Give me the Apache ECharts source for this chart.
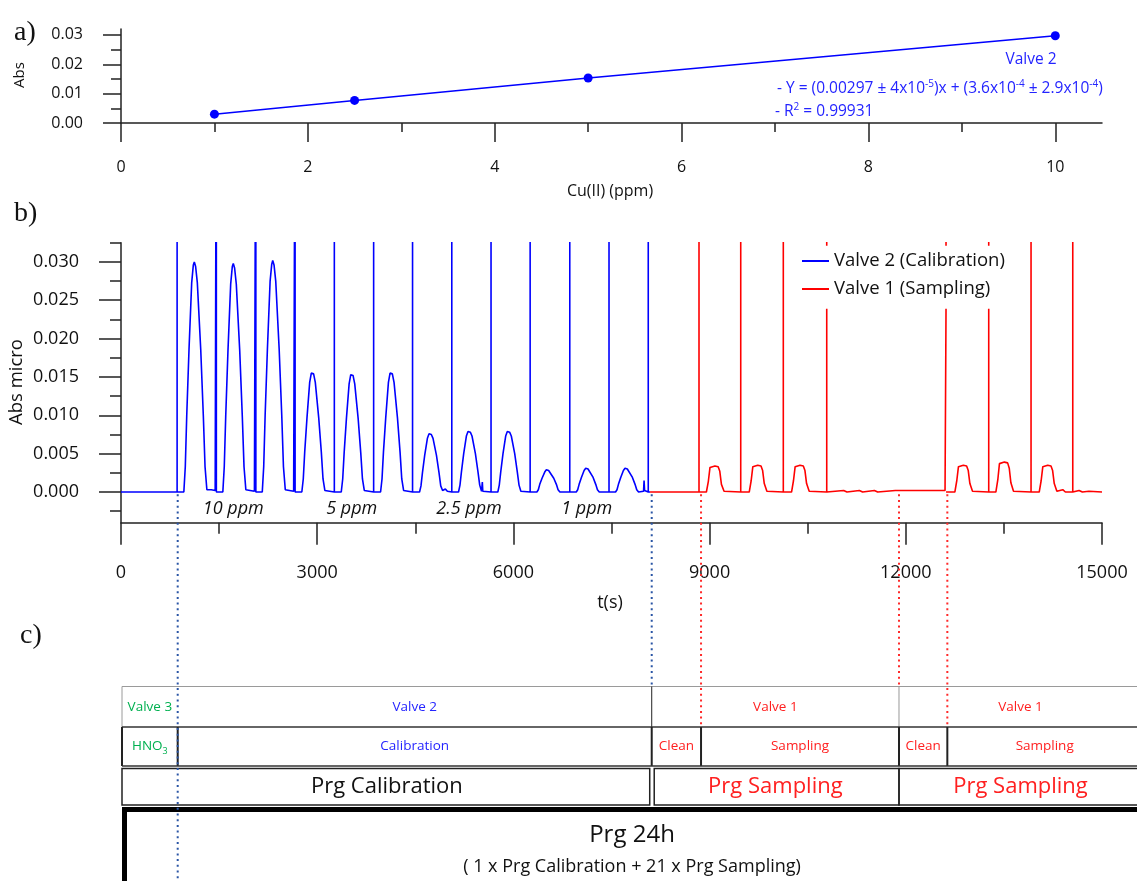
<!DOCTYPE html>
<html>
<head>
<meta charset="utf-8">
<title>Valve 2 calibration and sampling program</title>
<script src="https://cdn.jsdelivr.net/npm/echarts@6/dist/echarts.min.js"></script>
<style>
  html, body { margin: 0; padding: 0; background: #fff; }
  #chart { width: 1137px; height: 881px; }
</style>
</head>
<body>
<div id="chart"></div>
<script>
// a) calibration curve, Valve 2
const calConc = [1, 2.5, 5, 10]
const calAbs = [0.0030, 0.0077, 0.0153, 0.0297]

// b) recorded signal, [t(s), Abs micro]; '-' breaks the trace
const valve2Trace = [
  [0, 0], [858, 0], [858, 0.06], [858, 0],
  [961, 0], [983, 0.0033], [1005, 0.0099], [1040, 0.0186], [1081, 0.0273], [1106, 0.0296], [1121, 0.0300], [1141, 0.0294], [1167, 0.0273], [1219, 0.0186], [1259, 0.0099], [1285, 0.0033], [1313, 0.0003], [1380, 0.0003], [1440, 0.0002],
  [1458, 0], [1458, 0.06], [1458, 0],
  [1557, 0], [1579, 0.0033], [1601, 0.0098], [1636, 0.0185], [1677, 0.0271], [1702, 0.0294], [1717, 0.0298], [1737, 0.0292], [1763, 0.0271], [1815, 0.0185], [1855, 0.0098], [1881, 0.0033], [1909, 0.0003], [2040, 0.0001],
  [2062, 0], [2062, 0.06], [2062, 0],
  [2160, 0], [2182, 0.0033], [2204, 0.0100], [2239, 0.0187], [2280, 0.0275], [2305, 0.0297], [2320, 0.0302], [2340, 0.0296], [2366, 0.0275], [2418, 0.0187], [2458, 0.0100], [2484, 0.0033], [2512, 0.0003], [2640, 0.0001],
  [2662, 0], [2662, 0.06], [2662, 0],
  [2765, 0], [2787, 0.0017], [2809, 0.0052], [2844, 0.0097], [2885, 0.0143], [2910, 0.0155], [2925, 0.0157], [2945, 0.0154], [2971, 0.0143], [3023, 0.0097], [3063, 0.0052], [3089, 0.0017], [3117, 0.0002],
  [3262, 0], [3262, 0.06], [3262, 0],
  [3368, 0], [3390, 0.0017], [3412, 0.0051], [3447, 0.0096], [3488, 0.0141], [3513, 0.0153], [3528, 0.0155], [3548, 0.0152], [3574, 0.0141], [3626, 0.0096], [3666, 0.0051], [3692, 0.0017], [3720, 0.0002],
  [3863, 0], [3863, 0.06], [3863, 0],
  [3969, 0], [3991, 0.0017], [4013, 0.0052], [4048, 0.0097], [4089, 0.0143], [4114, 0.0155], [4129, 0.0157], [4149, 0.0154], [4175, 0.0143], [4227, 0.0097], [4267, 0.0052], [4293, 0.0017], [4321, 0.0002],
  [4458, 0], [4458, 0.06], [4458, 0],
  [4565, 0], [4587, 0.0008], [4609, 0.0025], [4644, 0.0048], [4685, 0.0070], [4710, 0.0076], [4725, 0.0077], [4745, 0.0075], [4771, 0.0070], [4823, 0.0048], [4863, 0.0025], [4889, 0.0008], [4917, 0.0002], [4960, 0.0004], [4990, 0.0001],
  [5058, 0], [5058, 0.06], [5058, 0],
  [5161, 0], [5183, 0.0009], [5205, 0.0026], [5240, 0.0050], [5281, 0.0073], [5306, 0.0079], [5321, 0.0080], [5341, 0.0078], [5367, 0.0073], [5419, 0.0050], [5459, 0.0026], [5485, 0.0009], [5513, 0.0001], [5518, 0.0001], [5525, 0.0013], [5532, 0.0001],
  [5658, 0], [5658, 0.06], [5658, 0],
  [5762, 0], [5784, 0.0009], [5806, 0.0026], [5841, 0.0050], [5882, 0.0073], [5907, 0.0079], [5922, 0.0080], [5942, 0.0078], [5968, 0.0073], [6020, 0.0050], [6060, 0.0026], [6086, 0.0009], [6114, 0.0001],
  [6256, 0], [6256, 0.06], [6256, 0],
  [6359, 0], [6381, 0.0003], [6403, 0.0010], [6438, 0.0018], [6479, 0.0026], [6504, 0.0029], [6519, 0.0029], [6539, 0.0028], [6565, 0.0026], [6617, 0.0018], [6657, 0.0010], [6683, 0.0003], [6711, 0],
  [6862, 0], [6862, 0.06], [6862, 0],
  [6961, 0], [6983, 0.0003], [7005, 0.0010], [7040, 0.0019], [7081, 0.0028], [7106, 0.0031], [7121, 0.0031], [7141, 0.0030], [7167, 0.0028], [7219, 0.0019], [7259, 0.0010], [7285, 0.0003], [7313, 0],
  [7462, 0], [7462, 0.06], [7462, 0],
  [7562, 0], [7584, 0.0003], [7606, 0.0010], [7641, 0.0019], [7682, 0.0028], [7707, 0.0031], [7722, 0.0031], [7742, 0.0030], [7768, 0.0028], [7820, 0.0019], [7860, 0.0010], [7886, 0.0003], [7914, 0], [7990, 0.0001], [7998, 0.0015], [8006, 0.0002],
  [8062, 0], [8062, 0.06], [8062, 0], [8089, 0]
]
const valve1Trace = [
  [8089, 0], [8838, 0], [8838, 0.06], [8838, 0],
  [8951, 0], [8981, 0.0014], [9006, 0.0032], [9031, 0.0034], [9081, 0.0034], [9131, 0.0033], [9156, 0.0027], [9181, 0.0010], [9221, 0.0001],
  [9476, 0], [9476, 0.06], [9476, 0],
  [9606, 0], [9636, 0.0015], [9661, 0.0033], [9686, 0.0035], [9736, 0.0035], [9786, 0.0034], [9811, 0.0028], [9836, 0.0011], [9876, 0.0001],
  [10127, 0], [10127, 0.06], [10127, 0],
  [10253, 0], [10283, 0.0015], [10308, 0.0033], [10333, 0.0035], [10383, 0.0035], [10433, 0.0034], [10458, 0.0028], [10483, 0.0011], [10523, 0.0001],
  [10791, 0], [10791, 0.0239], [10791, '-'], [10791, 0.0321], [10791, 0.04], [10791, '-'], [10791, 0],
  [11050, 0.0002], [11100, 0], [11290, 0.0002], [11340, 0], [11520, 0.0002], [11570, 0], [11840, 0.0002], [11900, 0.0002], [12600, 0.0002],
  [12615, 0.0002], [12615, 0.0239], [12615, '-'], [12615, 0.0321], [12615, 0.04], [12615, '-'], [12615, 0],
  [12750, 0], [12780, 0.0015], [12805, 0.0033], [12830, 0.0035], [12880, 0.0035], [12930, 0.0034], [12955, 0.0028], [12980, 0.0011], [13020, 0.0001],
  [13268, 0], [13268, 0.0239], [13268, '-'], [13268, 0.0321], [13268, 0.04], [13268, '-'], [13268, 0],
  [13377, 0], [13407, 0.0016], [13432, 0.0037], [13457, 0.0039], [13507, 0.0039], [13557, 0.0038], [13582, 0.0031], [13607, 0.0012], [13647, 0.0001],
  [13915, 0], [13915, 0.06], [13915, 0],
  [14040, 0], [14070, 0.0015], [14095, 0.0033], [14120, 0.0035], [14170, 0.0035], [14220, 0.0034], [14245, 0.0028], [14270, 0.0011], [14310, 0.0001],
  [14400, 0.0003], [14440, 0],
  [14553, 0], [14553, 0.06], [14553, 0],
  [14650, 0.0002], [14700, 0], [14800, 0.0001], [15000, 0]
]

// tick values
const aXTicks = [0, 2, 4, 6, 8, 10]
const aXMinor = [1, 3, 5, 7, 9]
const aYTicks = [0, 0.01, 0.02, 0.03]
const aYMinor = [0.005, 0.015, 0.025]
const bYTicks = [0, 0.005, 0.010, 0.015, 0.020, 0.025, 0.030]
const bYMinor = [-0.0025, 0.0025, 0.0075, 0.0125, 0.0175, 0.0225, 0.0275, 0.0325]

// concentration of each triplet, placed under its middle peak
const ppmLabels = ['10 ppm', '5 ppm', '2.5 ppm', '1 ppm']
const ppmTimes = [1717, 3528, 5321, 7121]

// c) program steps, boundaries in seconds
const tHno3End = 867
const tCalEnd = 8115
const tClean1End = 8869
const tSampling1End = 11896
const tClean2End = 12635
const tTableEnd = 15612

const FONT = "'Open Sans', 'Noto Sans', sans-serif"
const BLUE = '#0000ff'
const RED = '#ff0000'
const TXT_BLUE = '#2424ff'
const TXT_RED = '#ff2020'
const GREEN = '#00b050'
const AXIS = '#222'

const chart = echarts.init(document.getElementById('chart'))

function tickAxis(extra) {
  return Object.assign({
    type: 'value',
    axisLine: { show: true, lineStyle: { color: AXIS, width: 1.5 } },
    splitLine: { show: false },
    axisTick: { show: true, lineStyle: { color: AXIS, width: 1.5 } },
    axisLabel: { color: '#111', fontFamily: FONT }
  }, extra)
}

const option = {
  animation: false,
  backgroundColor: '#fff',
  grid: [
    { left: 121, top: 29, width: 981, height: 94, outerBoundsMode: 'none' },
    { left: 121, top: 242.7, width: 981, height: 280, outerBoundsMode: 'none' }
  ],
  legend: {
    data: ['Valve 2 (Calibration)', 'Valve 1 (Sampling)'],
    orient: 'vertical',
    left: 802,
    top: 251,
    padding: 0,
    icon: 'rect',
    itemWidth: 27,
    itemHeight: 2,
    itemGap: 8,
    textStyle: { fontFamily: FONT, fontSize: 18.5, lineHeight: 20, color: '#111' }
  },
  xAxis: [
    tickAxis({
      gridIndex: 0, min: 0, max: 10.5, position: 'bottom',
      axisTick: { show: true, length: 19, customValues: aXTicks, lineStyle: { color: AXIS, width: 1.5 } },
      axisLabel: { customValues: aXTicks, margin: 36, fontSize: 16, lineHeight: 16, color: '#111', fontFamily: FONT }
    }),
    tickAxis({
      gridIndex: 0, min: 0, max: 10.5, position: 'bottom',
      axisLine: { show: false },
      axisTick: { show: true, length: 9, customValues: aXMinor, lineStyle: { color: AXIS, width: 1.5 } },
      axisLabel: { show: false }
    }),
    tickAxis({
      gridIndex: 1, min: 0, max: 15000, interval: 3000, position: 'bottom',
      axisLine: { show: true, onZero: false, lineStyle: { color: AXIS, width: 1.5 } },
      axisTick: { show: true, length: 22, lineStyle: { color: AXIS, width: 1.5 } },
      minorTick: { show: true, splitNumber: 2, length: 11, lineStyle: { color: AXIS, width: 1.5 } },
      axisLabel: { margin: 41, fontSize: 18, lineHeight: 18, color: '#111', fontFamily: FONT, formatter: v => String(v) }
    })
  ],
  yAxis: [
    tickAxis({
      gridIndex: 0, min: 0, max: 0.032, position: 'left',
      axisTick: { show: true, length: 18, customValues: aYTicks, lineStyle: { color: AXIS, width: 1.5 } },
      axisLabel: { customValues: aYTicks, margin: 38, fontSize: 16, color: '#111', fontFamily: FONT, formatter: v => v.toFixed(2) }
    }),
    tickAxis({
      gridIndex: 0, min: 0, max: 0.032, position: 'left',
      axisLine: { show: false },
      axisTick: { show: true, length: 10, customValues: aYMinor, lineStyle: { color: AXIS, width: 1.5 } },
      axisLabel: { show: false }
    }),
    tickAxis({
      gridIndex: 1, min: -0.004, max: 0.0325, position: 'left',
      axisTick: { show: true, length: 22, customValues: bYTicks, lineStyle: { color: AXIS, width: 1.5 } },
      axisLabel: { customValues: bYTicks, margin: 42, fontSize: 18, color: '#111', fontFamily: FONT, formatter: v => v.toFixed(3) }
    }),
    tickAxis({
      gridIndex: 1, min: -0.004, max: 0.0325, position: 'left',
      axisLine: { show: false },
      axisTick: { show: true, length: 11, customValues: bYMinor, lineStyle: { color: AXIS, width: 1.5 } },
      axisLabel: { show: false }
    })
  ],
  series: [
    {
      name: 'Valve 2 fit',
      type: 'line',
      xAxisIndex: 0,
      yAxisIndex: 0,
      data: calConc.map((c, i) => [c, calAbs[i]]),
      symbol: 'circle',
      symbolSize: 9,
      lineStyle: { color: BLUE, width: 1.5 },
      itemStyle: { color: BLUE }
    },
    {
      name: 'Valve 2 (Calibration)',
      type: 'line',
      xAxisIndex: 2,
      yAxisIndex: 2,
      data: valve2Trace,
      symbol: 'none',
      showSymbol: false,
      lineStyle: { color: BLUE, width: 1.6 },
      itemStyle: { color: BLUE }
    },
    {
      name: 'Valve 1 (Sampling)',
      type: 'line',
      xAxisIndex: 2,
      yAxisIndex: 2,
      data: valve1Trace,
      symbol: 'none',
      showSymbol: false,
      connectNulls: false,
      lineStyle: { color: RED, width: 1.6 },
      itemStyle: { color: RED }
    }
  ]
}

chart.setOption(option)

const px = t => chart.convertToPixel({ xAxisIndex: 2 }, t)
const py = v => chart.convertToPixel({ yAxisIndex: 2 }, v)

function text(x, y, str, size, color, extra) {
  return {
    type: 'text',
    x: x,
    y: y,
    silent: true,
    z: 20,
    style: Object.assign({
      text: str,
      fill: color,
      fontSize: size,
      fontFamily: FONT,
      align: 'center',
      textAlign: 'center',
      verticalAlign: 'middle',
      textVerticalAlign: 'middle'
    }, extra || {})
  }
}

function line(x1, y1, x2, y2, color, width, dash) {
  return {
    type: 'line',
    silent: true,
    z: 15,
    shape: { x1: x1, y1: y1, x2: x2, y2: y2 },
    style: { stroke: color, lineWidth: width, lineDash: dash || null }
  }
}

function box(x, y, w, h, color, width) {
  return {
    type: 'rect',
    silent: true,
    z: 14,
    shape: { x: x, y: y, width: w, height: h },
    style: { fill: 'none', stroke: color, lineWidth: width }
  }
}

const supStyle = c => ({ fontSize: 10, lineHeight: 10, verticalAlign: 'top', fill: c, color: c, fontFamily: FONT })
const subStyle = c => ({ fontSize: 9, lineHeight: 9, verticalAlign: 'bottom', fill: c, color: c, fontFamily: FONT })
const SERIF = { fontFamily: "'Liberation Serif', serif", align: 'left', textAlign: 'left' }

const graphics = []

// panel letters and axis names
graphics.push(text(14, 33, 'a)', 28, '#111', SERIF))
graphics.push(text(14, 214, 'b)', 28, '#111', SERIF))
graphics.push(text(20, 636, 'c)', 28, '#111', SERIF))
graphics.push(Object.assign(text(20, 75, 'Abs', 15, '#111'), { rotation: Math.PI / 2 }))
graphics.push(text(610, 191, 'Cu(II) (ppm)', 16, '#111'))
graphics.push(Object.assign(text(17, 382, 'Abs micro', 18.5, '#111'), { rotation: Math.PI / 2 }))
graphics.push(text(610, 603, 't(s)', 18, '#111'))

// panel a annotation
graphics.push(text(1031, 60, 'Valve 2', 15.5, TXT_BLUE))
graphics.push(text(777, 89, '- Y = (0.00297 ± 4x10{s|-5})x + (3.6x10{s|-4} ± 2.9x10{s|-4})', 15.5, TXT_BLUE, {
  align: 'left', textAlign: 'left', lineHeight: 20, rich: { s: supStyle(TXT_BLUE) }
}))
graphics.push(text(775, 112, '- R{s|2} = 0.99931', 15.5, TXT_BLUE, {
  align: 'left', textAlign: 'left', lineHeight: 20, rich: { s: supStyle(TXT_BLUE) }
}))

// concentration labels under the peaks
ppmLabels.forEach((lab, i) => {
  graphics.push(text(px(ppmTimes[i]), py(-0.00225), lab, 18, '#111', { fontStyle: 'italic' }))
})

// c) program table
const X0 = px(0) + 1
const X1 = px(tHno3End)
const X2 = px(tCalEnd)
const X3 = px(tClean1End)
const X4 = px(tSampling1End)
const X5 = px(tClean2End)
const XR = px(tTableEnd)
const R0 = 686.5
const R1 = 727
const R2 = 766
const R3 = 768.5
const R3b = 805
const R4 = 809.5

graphics.push(line(X0, R0, XR, R0, '#9a9a9a', 1))
graphics.push(line(X0, R0, X0, R1, '#9a9a9a', 1))
graphics.push(line(X2, R0, X2, R1, '#222', 1))
graphics.push(line(X4, R0, X4, R1, '#999', 1))
graphics.push(line(X0, R1, XR, R1, '#333', 1.5))
;[X0, X1, X2, X3, X4, X5].forEach(x => graphics.push(line(x, R1, x, R2, '#222', 2)))
graphics.push(line(X0, R2, XR, R2, '#333', 1.5))
graphics.push(box(X0, R3, X2 - 2 - X0, R3b - R3, '#222', 1.5))
graphics.push(box(X2 + 2.5, R3, X4 - X2 - 2.5, R3b - R3, '#222', 1.5))
graphics.push(box(X4, R3, XR - X4, R3b - R3, '#222', 1.5))
graphics.push(box(X0 + 2.5, R4, 1200, 200, '#000', 5))

const rowMid1 = (R0 + R1) / 2
const rowMid2 = (R1 + R2) / 2
const rowMid3 = (R3 + R3b) / 2
graphics.push(text((X0 + X1) / 2, rowMid1, 'Valve 3', 13.5, GREEN))
graphics.push(text((X1 + X2) / 2, rowMid1, 'Valve 2', 13.5, TXT_BLUE))
graphics.push(text((X2 + X4) / 2, rowMid1, 'Valve 1', 13.5, TXT_RED))
graphics.push(text((X4 + XR) / 2, rowMid1, 'Valve 1', 13.5, TXT_RED))
graphics.push(text((X0 + X1) / 2, rowMid2, 'HNO{s|3}', 13.5, GREEN, { lineHeight: 18, rich: { s: subStyle(GREEN) } }))
graphics.push(text((X1 + X2) / 2, rowMid2, 'Calibration', 13.5, TXT_BLUE))
graphics.push(text((X2 + X3) / 2, rowMid2, 'Clean', 13.5, TXT_RED))
graphics.push(text((X3 + X4) / 2, rowMid2, 'Sampling', 13.5, TXT_RED))
graphics.push(text((X4 + X5) / 2, rowMid2, 'Clean', 13.5, TXT_RED))
graphics.push(text((X5 + XR) / 2, rowMid2, 'Sampling', 13.5, TXT_RED))
graphics.push(text((X0 + X2) / 2, rowMid3, 'Prg Calibration', 22, '#111'))
graphics.push(text((X2 + X4) / 2, rowMid3, 'Prg Sampling', 22, TXT_RED))
graphics.push(text((X4 + XR) / 2, rowMid3, 'Prg Sampling', 22, TXT_RED))
graphics.push(text((X0 + XR) / 2, 835, 'Prg 24h', 24, '#111'))
graphics.push(text((X0 + XR) / 2, 867, '( 1 x Prg Calibration + 21 x Prg Sampling)', 18, '#111'))

// dotted guides from the signal down into the table
const yTop = py(-0.0003)
const dots = [2, 3.7]
graphics.push(Object.assign(line(X1, yTop, X1, 881, '#2a55a5', 2, dots), { z: 30 }))
graphics.push(Object.assign(line(X2, yTop, X2, R0, '#2a55a5', 2, dots), { z: 30 }))
graphics.push(Object.assign(line(X3, yTop, X3, R1, '#ff2a2a', 2, dots), { z: 30 }))
graphics.push(Object.assign(line(X4, yTop, X4, R0, '#ff2a2a', 2, dots), { z: 30 }))
graphics.push(Object.assign(line(X5, yTop, X5, R1, '#ff2a2a', 2, dots), { z: 30 }))

chart.setOption({ graphic: graphics })
</script>
</body>
</html>
